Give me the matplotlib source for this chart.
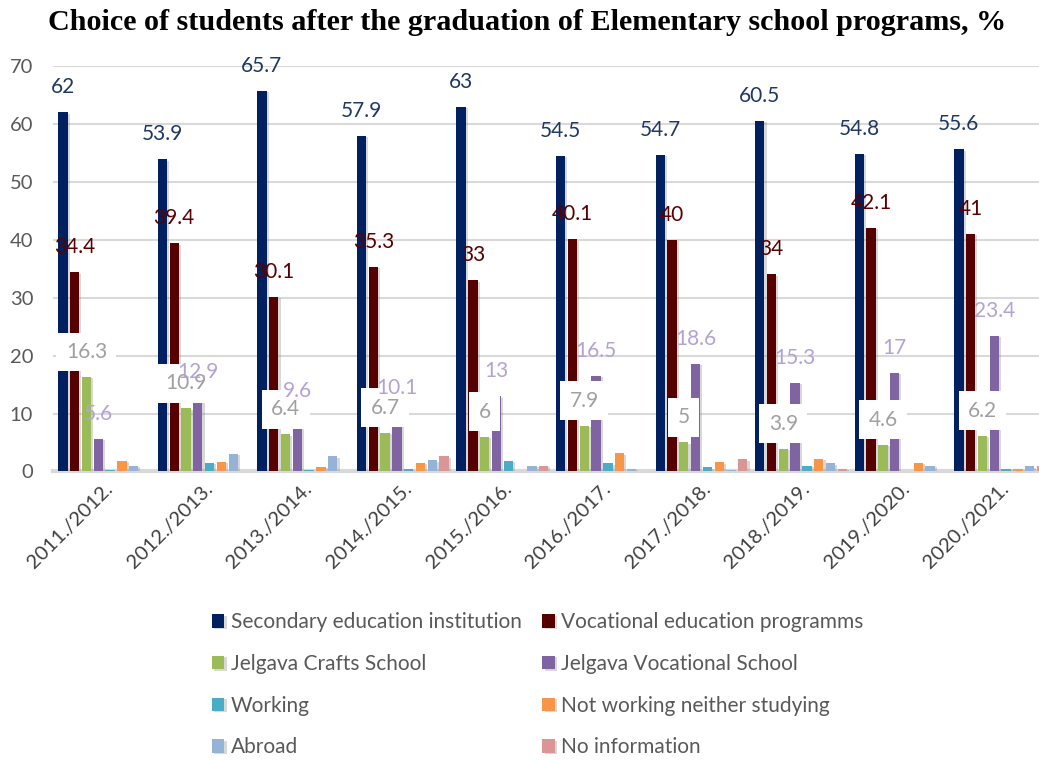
import numpy as np
import matplotlib
matplotlib.use("Agg")
import matplotlib.pyplot as plt
import matplotlib.patheffects as pe

plt.rcParams['font.family'] = ['Lato', 'DejaVu Sans']

years = ["2011./2012.", "2012./2013.", "2013./2014.", "2014./2015.", "2015./2016.",
         "2016./2017.", "2017./2018.", "2018./2019.", "2019./2020.", "2020./2021."]

secondary = [62, 53.9, 65.7, 57.9, 63, 54.5, 54.7, 60.5, 54.8, 55.6]
vocational = [34.4, 39.4, 30.1, 35.3, 33, 40.1, 40, 34, 42.1, 41]
crafts = [16.3, 10.9, 6.4, 6.7, 6, 7.9, 5, 3.9, 4.6, 6.2]
voc_school = [5.6, 12.9, 9.6, 10.1, 13, 16.5, 18.6, 15.3, 17, 23.4]
working = [0.3, 1.5, 0.3, 0.4, 1.8, 1.4, 0.7, 1.0, 0.0, 0.5]
not_working = [1.8, 1.7, 0.8, 1.5, 0.0, 3.1, 1.6, 2.2, 1.5, 0.5]
abroad = [1.0, 3.0, 2.6, 1.9, 1.0, 0.5, 0.3, 1.4, 1.0, 0.9]
no_info = [0.0, 0.0, 0.0, 2.6, 1.0, 0.0, 2.1, 0.5, 0.0, 0.9]

series = [
    ("Secondary education institution", secondary, "#002060"),
    ("Vocational education programms", vocational, "#560000"),
    ("Jelgava Crafts School", crafts, "#9bbb59"),
    ("Jelgava Vocational School", voc_school, "#8064a2"),
    ("Working", working, "#4bacc6"),
    ("Not working neither studying", not_working, "#f79646"),
    ("Abroad", abroad, "#95b3d7"),
    ("No information", no_info, "#d99694"),
]

fig = plt.figure(figsize=(10.39, 7.6), dpi=100)
ax = fig.add_axes([0.0507, 0.3797, 0.9493, 0.5335])

x = np.arange(len(years))
step = 0.1185
width = 0.094
shadow = [pe.SimplePatchShadow(offset=(1.5, -1.0), shadow_rgbFace="#808080", alpha=0.3), pe.Normal()]

handles = []
for j, (name, vals, col) in enumerate(series):
    bars = ax.bar(x + (j - 3.5) * step, vals, width, color=col, label=name, zorder=3)
    for b in bars:
        b.set_path_effects(shadow)
    handles.append(bars)

# data labels for the four big series
label_style = {0: dict(color="#1f3864"), 1: dict(color="#5a0000"),
               2: dict(color="#a0a0a0", bbox=dict(boxstyle="square,pad=0.45", fc="white", ec="none")),
               3: dict(color="#b4a2d4")}
for j in [0, 1, 2, 3]:
    name, vals, col = series[j]
    for i, v in enumerate(vals):
        ax.annotate(f"{v:g}", (x[i] + (j - 3.5) * step, v), xytext=(0, 18),
                    textcoords="offset points", ha="center", va="center",
                    fontsize=15, zorder=5 + j if j != 2 else 4, annotation_clip=False,
                    **label_style[j])

ax.set_ylim(0, 70)
ax.set_xlim(-0.517, 9.39)
ax.set_yticks(range(0, 71, 10))
ax.yaxis.grid(True, color="#d9d9d9", linewidth=1.5, zorder=0)
ax.set_axisbelow(True)
for s in ["top", "right", "left"]:
    ax.spines[s].set_visible(False)
ax.spines["bottom"].set_color("#d9d9d9")
ax.spines["bottom"].set_linewidth(3)
ax.tick_params(axis="y", length=0, pad=14, labelsize=14.5, labelcolor="#595959")
ax.tick_params(axis="x", length=0, pad=6, labelsize=14.5, labelcolor="#404040")
ax.set_xticks(x)
ax.set_xticklabels(years, rotation=45, ha="right", va="top", rotation_mode="anchor")

fig.suptitle("Choice of students after the graduation of Elementary school programs, %",
             family="Liberation Serif", fontweight="bold", fontsize=21.7, x=0.507, y=0.971, va="center")

order = [0, 2, 4, 6, 1, 3, 5, 7]
fig.legend([handles[k] for k in order], [series[k][0] for k in order],
           ncol=2, loc="upper left", bbox_to_anchor=(0.194, 0.208), frameon=False,
           fontsize=15, labelcolor="#595959", handlelength=0.6, handleheight=0.6,
           handletextpad=0.3, labelspacing=1.04, columnspacing=1.0, borderpad=0)

fig.savefig("out.png", dpi=100)
